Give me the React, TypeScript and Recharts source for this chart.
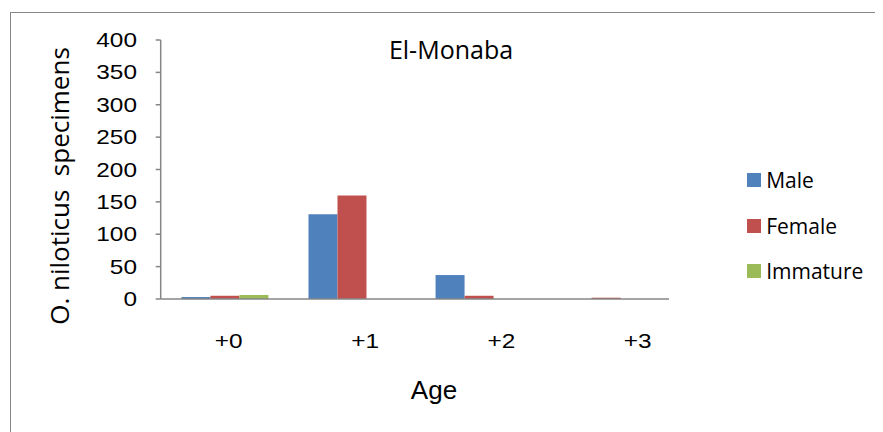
import React from 'react';
import { BarChart, Bar, XAxis, YAxis, Customized } from 'recharts';

const ages = ['+0', '+1', '+2', '+3'];
const male = [3, 131, 37, 0];
const female = [5, 160, 5, 2];
const immature = [6, 0, 0, 0];
const yTicks = [0, 50, 100, 150, 200, 250, 300, 350, 400];

const seriesNames = ['Male', 'Female', 'Immature'];
const seriesColors = ['#4F81BD', '#C0504D', '#9BBB59'];

const data = ages.map((a, i) => ({
  age: a,
  Male: male[i],
  Female: female[i],
  Immature: immature[i],
}));

const AXIS = '#868686';

const YTick = (props: any) => {
  const { x, y, payload } = props;
  return (
    <text
      transform={`translate(${x},${y + 7}) scale(1.22,1)`}
      textAnchor="end"
      fontFamily="'Liberation Sans', Arial, sans-serif"
      fontSize={20}
      fill="#000"
    >
      {payload.value}
    </text>
  );
};

const XTick = (props: any) => {
  const { x, y, payload, index } = props;
  const dx = 4.5 + 9.25 * index;
  return (
    <text
      transform={`translate(${x + dx},${y}) scale(1.22,1)`}
      textAnchor="middle"
      fontFamily="'Liberation Sans', Arial, sans-serif"
      fontSize={20}
      fill="#000"
    >
      {payload.value}
    </text>
  );
};

const Titles = () => (
  <g>
    <text
      x={443}
      y={51}
      textAnchor="middle"
      fontFamily="'Open Sans', sans-serif"
      fontSize={25}
      fill="#000"
    >
      El-Monaba
    </text>
    <text
      x={426}
      y={391}
      textAnchor="middle"
      fontFamily="'Liberation Sans', Arial, sans-serif"
      fontSize={26}
      fill="#000"
    >
      Age
    </text>
    <text
      transform="translate(61,178) rotate(-90)"
      textAnchor="middle"
      fontFamily="'Open Sans', sans-serif"
      fontSize={26}
      fill="#000"
      style={{ whiteSpace: 'pre' }}
    >
      O. niloticus  specimens
    </text>
  </g>
);

const LegendBox = () => (
  <div style={{ position: 'absolute', left: 738.7, top: 165.3 }}>
    {seriesNames.map((n, i) => (
      <div
        key={n}
        style={{
          display: 'flex',
          alignItems: 'center',
          height: 14,
          marginBottom: i < seriesNames.length - 1 ? 31.5 : 0,
        }}
      >
        <div style={{ width: 14, height: 14, background: seriesColors[i] }} />
        <span
          style={{
            marginLeft: 5.5,
            fontFamily: "'Open Sans', sans-serif",
            fontSize: 21,
            lineHeight: '14px',
            color: '#000',
            whiteSpace: 'nowrap',
          }}
        >
          {n}
        </span>
      </div>
    ))}
  </div>
);

export default function App() {
  return (
    <div style={{ position: 'relative', width: 875, height: 424, overflow: 'hidden', background: '#fff' }}>
      <div
        style={{
          position: 'absolute',
          left: 1.5,
          top: 4,
          width: 900,
          height: 500,
          borderTop: `1.5px solid ${AXIS}`,
          borderLeft: `1.5px solid ${AXIS}`,
        }}
      />
      <BarChart
        width={875}
        height={424}
        data={data}
        margin={{ top: 32, right: 214, bottom: 103, left: 92.7 }}
        barCategoryGap="16.3%"
        barGap={0}
        style={{ position: 'absolute', left: 0, top: 0 }}
      >
        <XAxis
          dataKey="age"
          axisLine={{ stroke: AXIS, strokeWidth: 1.5 }}
          tickLine={false}
          tickSize={0}
          tickMargin={49}
          height={30}
          tick={<XTick />}
          interval={0}
        />
        <YAxis
          domain={[0, 400]}
          ticks={yTicks}
          axisLine={{ stroke: AXIS, strokeWidth: 1.5 }}
          tickLine={{ stroke: AXIS, strokeWidth: 1.5 }}
          tickSize={5}
          tickMargin={18.7}
          width={60}
          tick={<YTick />}
          interval={0}
        />
        {seriesNames.map((n, i) => (
          <Bar key={n} dataKey={n} fill={seriesColors[i]} isAnimationActive={false} />
        ))}
        <Customized component={<Titles />} />
      </BarChart>
      <LegendBox />
    </div>
  );
}
